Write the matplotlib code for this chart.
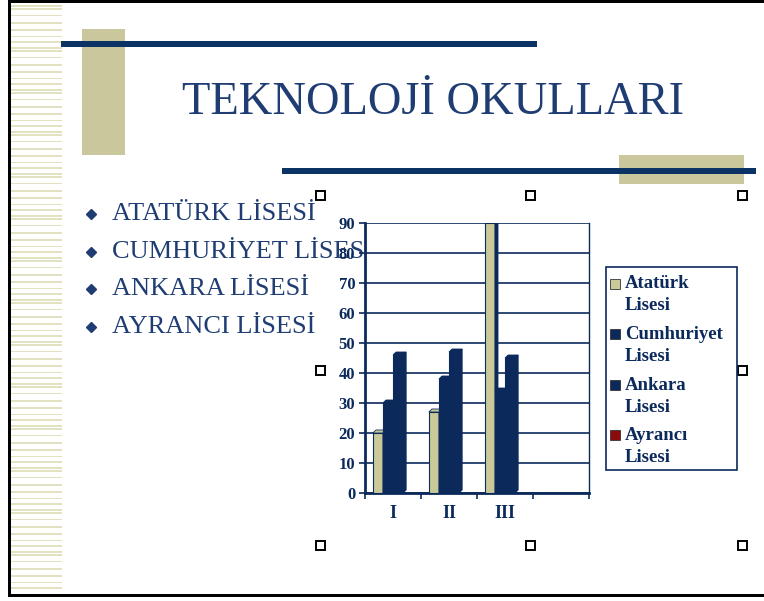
import numpy as np
import matplotlib
matplotlib.use("Agg")
from matplotlib import pyplot as plt
from matplotlib.patches import Rectangle, Polygon

# chart data
categories = ["I", "II", "III", ""]
series_names = ["Atatürk Lisesi", "Cumhuriyet Lisesi", "Ankara Lisesi", "Ayrancı Lisesi"]
ataturk = [20, 27, 90, 0]
cumhuriyet = [30, 38, 34, 0]
ankara = [46, 47, 45, 0]
ayranci = [0, 0, 0, 0]
series_colors = ["#C9C99A", "#0B2A5B", "#0B2A5B", "#8B0A0A"]

bullets = ["ATATÜRK LİSESİ", "CUMHURİYET LİSESİ", "ANKARA LİSESİ", "AYRANCI LİSESİ"]
title = "TEKNOLOJİ OKULLARI"

W, H = 764, 601
NAVY = "#0B2A5B"
TXT = "#1F3D73"
KHAKI = "#C9C79B"
SERIF = ["Liberation Serif", "DejaVu Serif"]

fig = plt.figure(figsize=(W / 100, H / 100), dpi=100)

# slide background, drawn in pixel coordinates
bg = fig.add_axes([0, 0, 1, 1])
bg.set_xlim(0, W)
bg.set_ylim(H, 0)
bg.axis("off")

# border
bg.add_patch(Rectangle((8, 0), W - 8, 2.5, color="black", lw=0))
bg.add_patch(Rectangle((8, 0), 3, 597, color="black", lw=0))
bg.add_patch(Rectangle((8, 594), W - 8, 3, color="black", lw=0))

# striped band on the left
pattern = [(0, 2), (3, 1.5), (10, 1), (17, 1.5), (24, 2), (31, 1), (36, 1.5)]
for base in range(5, 590, 42):
    for off, th in pattern:
        y = base + off
        if y < 592:
            bg.add_patch(Rectangle((11, y), 51, th, color="#E2E1C2", lw=0))

# decorative blocks and lines
bg.add_patch(Rectangle((82, 29), 43, 126, color=KHAKI, lw=0))
bg.add_patch(Rectangle((61, 41), 476, 6, color="#0B3366", lw=0))
bg.add_patch(Rectangle((619, 155), 125, 29, color=KHAKI, lw=0))
bg.add_patch(Rectangle((282, 168), 474, 6, color="#0B3366", lw=0))

bg.text(433, 103, title, ha="center", va="center", fontsize=33.5,
        family=SERIF, color=TXT)

# bullet list
for i, t in enumerate(bullets):
    y = 214 + i * 37.7
    bg.plot(91, y, marker="D", ms=5.5, color=TXT, mec=TXT)
    bg.text(112, y, t, ha="left", va="center", fontsize=19,
            family=SERIF, color=TXT)

# selection handles
for hx, hy in [(320, 195), (530, 195), (742, 195), (320, 370), (742, 370),
               (320, 545), (530, 545), (742, 545)]:
    bg.add_patch(Rectangle((hx - 4.5, hy - 4.5), 9, 9, fc="white",
                           ec="black", lw=1.4))

# legend
bg.add_patch(Rectangle((606, 267), 131, 203, fc="white", ec=NAVY, lw=1.2))
for i, name in enumerate(series_names):
    y = 284 + i * 50.5
    bg.add_patch(Rectangle((610, y - 5.5), 10, 10, fc=series_colors[i],
                           ec="#333333", lw=0.6))
    first, second = name.split(" ")
    bg.text(625, y, first, ha="left", va="center", fontsize=13.5,
            family=SERIF, weight="bold", color=NAVY)
    bg.text(625, y + 22, second, ha="left", va="center", fontsize=13.5,
            family=SERIF, weight="bold", color=NAVY)

# the chart
ax = fig.add_axes([365 / W, (H - 493) / H, 224 / W, 270 / H])
ax.set_facecolor("white")
ax.set_xlim(0, 4)
ax.set_ylim(0, 90)

x = np.arange(len(categories))
values = [ataturk, cumhuriyet, ankara, ayranci]
bw = 0.18
start = 0.14
dx, dy = 0.055, 1.0
for j, vals in enumerate(values):
    col = series_colors[j]
    for i, v in enumerate(vals):
        if v <= 0:
            continue
        left = x[i] + start + j * bw
        ax.bar(left, v, width=bw, align="edge", color=col, ec=NAVY,
               lw=0.8, zorder=3 + j)
        # 3d side and top
        side = Polygon([(left + bw, 0), (left + bw + dx, dy), (left + bw + dx, v + dy),
                        (left + bw, v)], closed=True, fc=NAVY, ec=NAVY, lw=0.6,
                       zorder=3 + j)
        top = Polygon([(left, v), (left + dx, v + dy), (left + bw + dx, v + dy),
                       (left + bw, v)], closed=True, fc=col, ec=NAVY, lw=0.6,
                      zorder=3 + j)
        ax.add_patch(side)
        ax.add_patch(top)

ax.set_yticks(range(0, 91, 10))
ax.yaxis.grid(True, color=NAVY, lw=1.2, zorder=1)
ax.set_axisbelow(True)
ax.set_xticks(range(0, 5))
ax.set_xticklabels([])
ax.set_xticks(x + 0.5, minor=True)
ax.set_xticklabels(categories, minor=True)
ax.tick_params(axis="x", which="minor", length=0, pad=9)
ax.tick_params(axis="x", which="major", length=4, width=1.2, color=NAVY, direction="out")
ax.tick_params(axis="y", length=4, width=1.2, color=NAVY, direction="out", pad=3)
for lab in ax.get_yticklabels() + ax.get_xticklabels(minor=True):
    lab.set_family(SERIF)
    lab.set_weight("bold")
    lab.set_color(NAVY)
    lab.set_fontsize(12)
for lab in ax.get_xticklabels(minor=True):
    lab.set_fontsize(13)
for s in ["left", "bottom"]:
    ax.spines[s].set_color(NAVY)
    ax.spines[s].set_linewidth(2)
ax.spines["right"].set_color(NAVY)
ax.spines["right"].set_linewidth(1)
ax.spines["top"].set_visible(False)

fig.savefig("out.png", dpi=100)
